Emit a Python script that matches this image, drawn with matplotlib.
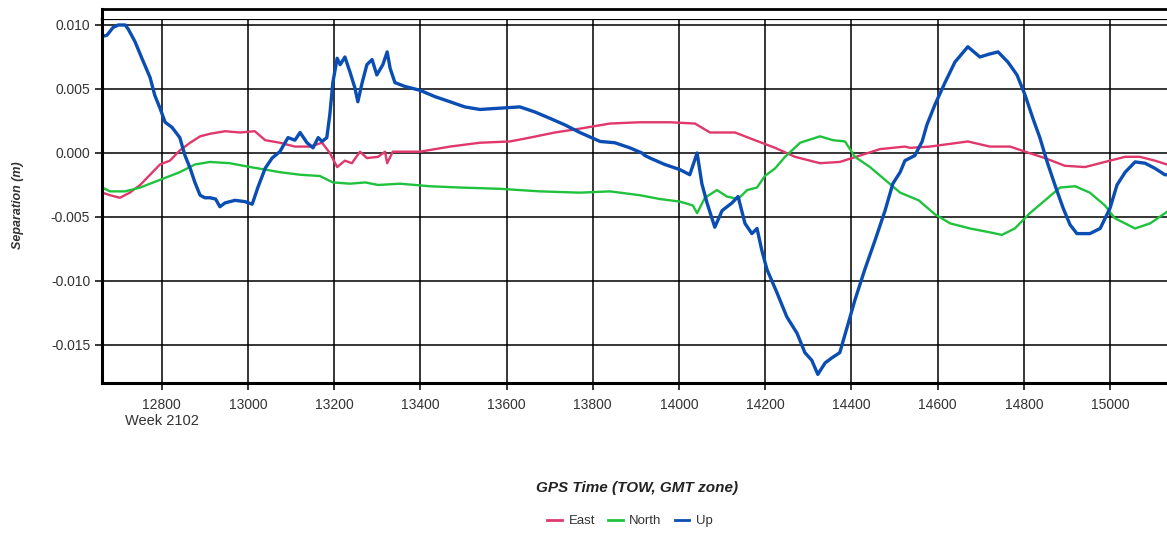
import matplotlib
matplotlib.use("Agg")
import matplotlib.pyplot as plt
from matplotlib.ticker import FormatStrFormatter, MultipleLocator

plt.rcParams['font.family'] = ['Liberation Sans', 'DejaVu Sans']

# --- data (GPS TOW seconds, separation in metres) ---
east_t = [12662, 12680, 12703, 12726, 12750, 12773, 12796, 12819, 12842, 12866,
          12889, 12912, 12947, 12982, 13016, 13040, 13074, 13109, 13144, 13172,
          13190, 13207, 13225, 13241, 13260, 13276, 13302, 13318, 13323, 13336,
          13399, 13469, 13538, 13608, 13654, 13712, 13770, 13840, 13909, 13979,
          14037, 14072, 14130, 14176, 14223, 14269, 14327, 14373, 14420, 14466,
          14524, 14536, 14582, 14670, 14721, 14768, 14803, 14849, 14895, 14942,
          14988, 15035, 15069, 15104, 15132]
east_v = [-0.0031, -0.0033, -0.0035, -0.0031, -0.0025, -0.0017, -0.0009, -0.0006, 0.0002, 0.0008,
          0.0013, 0.0015, 0.0017, 0.0016, 0.0017, 0.0010, 0.0008, 0.0005, 0.0005, 0.0008,
          0.0000, -0.0011, -0.0006, -0.0008, 0.0001, -0.0004, -0.0003, 0.0001, -0.0008, 0.0001,
          0.0001, 0.0005, 0.0008, 0.0009, 0.0012, 0.0016, 0.0019, 0.0023, 0.0024, 0.0024,
          0.0023, 0.0016, 0.0016, 0.0010, 0.0004, -0.0003, -0.0008, -0.0007, -0.0002, 0.0003,
          0.0005, 0.0004, 0.0005, 0.0009, 0.0005, 0.0005, 0.0001, -0.0004, -0.0010, -0.0011,
          -0.0007, -0.0003, -0.0003, -0.0006, -0.0009]

north_t = [12662, 12680, 12715, 12750, 12796, 12842, 12877, 12912, 12958, 13005,
           13040, 13074, 13121, 13167, 13197, 13237, 13272, 13302, 13353, 13422,
           13492, 13585, 13677, 13770, 13840, 13909, 13956, 14002, 14032, 14042,
           14060, 14088, 14111, 14137, 14158, 14181, 14199, 14223, 14246, 14281,
           14327, 14357, 14385, 14408, 14443, 14478, 14513, 14556, 14594, 14629,
           14675, 14721, 14749, 14779, 14814, 14849, 14884, 14919, 14953, 14988,
           15011, 15058, 15093, 15132]
north_v = [-0.0027, -0.0030, -0.0030, -0.0027, -0.0021, -0.0015, -0.0009, -0.0007, -0.0008, -0.0011,
           -0.0013, -0.0015, -0.0017, -0.0018, -0.0023, -0.0024, -0.0023, -0.0025, -0.0024, -0.0026,
           -0.0027, -0.0028, -0.0030, -0.0031, -0.0030, -0.0033, -0.0036, -0.0038, -0.0041, -0.0047,
           -0.0035, -0.0029, -0.0034, -0.0036, -0.0029, -0.0027, -0.0018, -0.0012, -0.0003, 0.0008,
           0.0013, 0.0010, 0.0009, -0.0003, -0.0011, -0.0021, -0.0031, -0.0037, -0.0048, -0.0055,
           -0.0059, -0.0062, -0.0064, -0.0059, -0.0047, -0.0037, -0.0027, -0.0026, -0.0031, -0.0041,
           -0.0051, -0.0059, -0.0055, -0.0046]

up_t = [12662, 12673, 12687, 12699, 12715, 12722, 12738, 12754, 12773, 12784,
        12796, 12808, 12824, 12842, 12854, 12866, 12877, 12889, 12900, 12912,
        12925, 12935, 12947, 12970, 12993, 13010, 13023, 13040, 13056, 13074,
        13093, 13109, 13121, 13137, 13151, 13163, 13172, 13183, 13190, 13197,
        13207, 13214, 13225, 13237, 13248, 13255, 13265, 13276, 13288, 13299,
        13313, 13323, 13330, 13341, 13364, 13399, 13434, 13469, 13503, 13538,
        13585, 13631, 13666, 13701, 13735, 13770, 13817, 13851, 13886, 13914,
        13921, 13933, 13967, 14002, 14025, 14042, 14053, 14065, 14083, 14100,
        14123, 14137, 14153, 14169, 14181, 14192, 14204, 14227, 14250, 14274,
        14292, 14308, 14322, 14339, 14355, 14373, 14390, 14408, 14431, 14455,
        14478, 14496, 14513, 14524, 14547, 14564, 14575, 14594, 14617, 14640,
        14670, 14698, 14717, 14740, 14763, 14784, 14803, 14821, 14837, 14854,
        14872, 14891, 14907, 14923, 14953, 14977, 15000, 15016, 15035, 15058,
        15081, 15104, 15127, 15132]
up_v = [0.0091, 0.0092, 0.0098, 0.0100, 0.0100, 0.0097, 0.0087, 0.0074, 0.0059, 0.0045,
        0.0035, 0.0024, 0.0020, 0.0012, -0.0002, -0.0012, -0.0023, -0.0033, -0.0035, -0.0035,
        -0.0036, -0.0042, -0.0039, -0.0037, -0.0038, -0.0040, -0.0027, -0.0012, -0.0004, 0.0001,
        0.0012, 0.0010, 0.0016, 0.0008, 0.0004, 0.0012, 0.0009, 0.0012, 0.0030, 0.0055,
        0.0074, 0.0069, 0.0075, 0.0063, 0.0051, 0.0040, 0.0055, 0.0069, 0.0073, 0.0061,
        0.0069, 0.0079, 0.0066, 0.0055, 0.0052, 0.0049, 0.0044, 0.0040, 0.0036, 0.0034,
        0.0035, 0.0036, 0.0032, 0.0027, 0.0022, 0.0016, 0.0009, 0.0008, 0.0004, 0.0000,
        -0.0002, -0.0004, -0.0009, -0.0013, -0.0017, 0.0000, -0.0024, -0.0039, -0.0058, -0.0045,
        -0.0039, -0.0034, -0.0055, -0.0063, -0.0059, -0.0076, -0.0091, -0.0109, -0.0128, -0.0141,
        -0.0156, -0.0162, -0.0173, -0.0164, -0.0160, -0.0156, -0.0136, -0.0115, -0.0091, -0.0068,
        -0.0045, -0.0024, -0.0015, -0.0006, -0.0002, 0.0009, 0.0022, 0.0038, 0.0055, 0.0071,
        0.0083, 0.0075, 0.0077, 0.0079, 0.0071, 0.0061, 0.0045, 0.0027, 0.0012, -0.0007,
        -0.0025, -0.0043, -0.0056, -0.0063, -0.0063, -0.0059, -0.0043, -0.0025, -0.0015, -0.0007,
        -0.0008, -0.0012, -0.0017, -0.0017]

x_ticks = list(range(12800, 15001, 200))
week_label = 'Week 2102'

fig = plt.figure(figsize=(11.67, 5.34), dpi=100)
ax = fig.add_axes([102 / 1167, 1 - 382.7 / 534, 1 - 102 / 1167, (382.7 - 19.3) / 534])
strip = fig.add_axes([102 / 1167, 1 - 19.3 / 534, 1 - 102 / 1167, 10 / 534])

ax.plot(east_t, east_v, color='#e0386b', lw=1.7, label='East')
ax.plot(north_t, north_v, color='#1fc23c', lw=1.7, label='North')
ax.plot(up_t, up_v, color='#0a4db3', lw=2.4, label='Up')

ax.set_xlim(12661.5, 15132)
ax.set_ylim(-0.01795, 0.010445)
ax.set_xticks(x_ticks)
ax.yaxis.set_major_locator(MultipleLocator(0.005))
ax.yaxis.set_major_formatter(FormatStrFormatter('%.3f'))
ax.grid(True, color='black', lw=1.1)
ax.tick_params(axis='both', length=5, width=1.1, color='black', labelsize=10, labelcolor='#333333')
ax.tick_params(axis='x', pad=6)

for side in ['left', 'bottom']:
    ax.spines[side].set_linewidth(2.2)
ax.spines['top'].set_linewidth(1.6)
ax.spines['right'].set_visible(False)

strip.set_xticks([])
strip.set_yticks([])
strip.spines['right'].set_visible(False)
strip.spines['bottom'].set_visible(False)
strip.spines['top'].set_linewidth(2.0)
strip.spines['left'].set_linewidth(2.2)

ax.text(12800, -0.106, week_label, transform=ax.get_xaxis_transform(),
        ha='center', va='center', fontsize=10.5, color='#333333')

fig.text(18 / 1167, 1 - 205 / 534, 'Separation (m)', rotation=90, ha='center', va='center',
         fontsize=9, fontweight='bold', fontstyle='italic', color='#333333')
fig.text(637 / 1167, 1 - 488 / 534, 'GPS Time (TOW, GMT zone)', ha='center', va='center',
         fontsize=11, fontweight='bold', fontstyle='italic', color='#222222')

handles, labels = ax.get_legend_handles_labels()
leg = fig.legend(handles, labels, loc='center', bbox_to_anchor=(630 / 1167, 1 - 521 / 534),
                 ncol=3, frameon=False, fontsize=9.5, handlelength=1.1, handletextpad=0.5,
                 columnspacing=1.0)
for line in leg.get_lines():
    line.set_linewidth(2)
for t in leg.get_texts():
    t.set_color('#333333')

fig.savefig('out.png', dpi=100)
